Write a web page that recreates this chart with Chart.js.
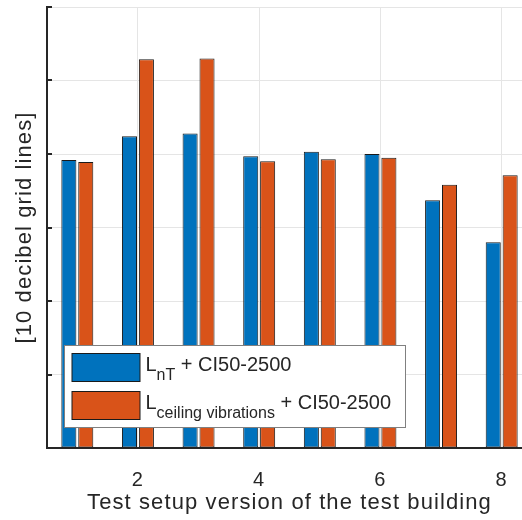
<!DOCTYPE html>
<html>
<head>
<meta charset="utf-8">
<script src="https://cdn.jsdelivr.net/npm/chart.js@4"></script>
<style>
  html, body { margin: 0; padding: 0; background: #fff; overflow: hidden; }
  #wrap { width: 540px; height: 520px; }
</style>
</head>
<body>
<div id="wrap"><canvas id="levelChart"></canvas></div>
<script>
// test setup versions 1..8
const versions = ['1', '2', '3', '4', '5', '6', '7', '8'];
// L_nT + CI50-2500
const lntValues = [39.2, 42.4, 42.8, 39.7, 40.3, 40.0, 33.7, 28.0];
// L_ceiling vibrations + CI50-2500
const ceilingValues = [38.9, 52.9, 53.0, 39.0, 39.3, 39.5, 35.8, 37.1];
// legend text: base, subscript, suffix
const lntName = ['L', 'nT', ' + CI50-2500'];
const ceilingName = ['L', 'ceiling vibrations', ' + CI50-2500'];
// y grid: 10 dB steps, no labels
const yMin = 0;
const yMax = 60;
const yStep = 10;

const blue = '#0072BD';
const orange = '#D95319';
const ink = '#262626';
const family = '"Liberation Sans", Arial, Helvetica, sans-serif';

// wider text spacing for the axis labels
const spacingPlugin = {
    id: 'spacing',
    beforeDraw(chart) {
        chart.ctx.letterSpacing = '1.1px';
    }
};

// short inward ticks on the y axis
const yTickPlugin = {
    id: 'yTicksIn',
    afterDraw(chart) {
        const y = chart.scales.y;
        const ctx = chart.ctx;
        ctx.save();
        ctx.strokeStyle = ink;
        ctx.lineWidth = 2;
        y.ticks.forEach(t => {
            const py = Math.round(y.getPixelForValue(t.value));
            ctx.beginPath();
            ctx.moveTo(y.right - 1, py);
            ctx.lineTo(y.right + 5, py);
            ctx.stroke();
        });
        ctx.restore();
    }
};

// boxed legend with subscripts
const legendPlugin = {
    id: 'subLegend',
    afterDatasetsDraw(chart) {
        const ctx = chart.ctx;
        const area = chart.chartArea;
        const bx = area.left + 17.5;
        const by = area.bottom - 102.5;
        const bw = 341;
        const bh = 82;
        ctx.save();
        ctx.letterSpacing = '0px';
        ctx.fillStyle = '#fff';
        ctx.fillRect(bx, by, bw, bh);
        ctx.strokeStyle = '#808080';
        ctx.lineWidth = 1;
        ctx.strokeRect(bx, by, bw, bh);

        const rows = [
            { name: lntName, color: blue },
            { name: ceilingName, color: orange }
        ];
        rows.forEach((r, i) => {
            const sy = by + 8 + i * 38;
            ctx.fillStyle = r.color;
            ctx.fillRect(bx + 7.5, sy, 68, 28);
            ctx.strokeStyle = '#1a1a1a';
            ctx.strokeRect(bx + 7.5, sy, 68, 28);

            let tx = bx + 81;
            const base = sy + 17;
            ctx.fillStyle = ink;
            ctx.textBaseline = 'alphabetic';
            ctx.textAlign = 'left';
            ctx.font = '20px ' + family;
            ctx.fillText(r.name[0], tx, base);
            tx += ctx.measureText(r.name[0]).width;
            ctx.font = '16px ' + family;
            ctx.fillText(r.name[1], tx, base + 9);
            tx += ctx.measureText(r.name[1]).width;
            ctx.font = '20px ' + family;
            ctx.fillText(r.name[2], tx, base);
        });
        ctx.restore();
    }
};

new Chart(document.getElementById('levelChart'), {
    type: 'bar',
    data: {
        labels: versions,
        datasets: [{
            label: lntName.join(''),
            data: lntValues,
            backgroundColor: blue,
            borderColor: '#1a1a1a',
            borderWidth: 1,
            borderSkipped: false,
            categoryPercentage: 0.558,
            barPercentage: 0.89
        }, {
            label: ceilingName.join(''),
            data: ceilingValues,
            backgroundColor: orange,
            borderColor: '#1a1a1a',
            borderWidth: 1,
            borderSkipped: false,
            categoryPercentage: 0.558,
            barPercentage: 0.89
        }]
    },
    options: {
        responsive: true,
        maintainAspectRatio: false,
        animation: false,
        layout: { padding: { top: 7, right: 8, left: 0, bottom: 0 } },
        plugins: {
            legend: { display: false },
            tooltip: { enabled: false }
        },
        scales: {
            x: {
                grid: {
                    offset: false,
                    drawTicks: false,
                    color: c => (c.index % 2 === 1 ? '#e5e5e5' : 'rgba(0,0,0,0)')
                },
                border: { color: ink, width: 2 },
                ticks: {
                    autoSkip: false,
                    maxRotation: 0,
                    padding: 20,
                    color: ink,
                    font: { family: family, size: 20 },
                    callback: (v, i) => (i % 2 === 1 ? versions[i] : '')
                },
                title: {
                    display: true,
                    text: 'Test setup version of the test building',
                    color: ink,
                    font: { family: family, size: 22 },
                    padding: { top: 0, bottom: 4 }
                },
                afterFit: s => { s.height = 72; }
            },
            y: {
                min: yMin,
                max: yMax,
                grid: { color: '#e5e5e5', drawTicks: false },
                border: { color: ink, width: 2 },
                ticks: { stepSize: yStep, display: false },
                title: {
                    display: true,
                    text: '[10 decibel grid lines]',
                    color: ink,
                    font: { family: family, size: 22 },
                    padding: { top: 12, bottom: 0 }
                },
                afterFit: s => { s.width = 47; }
            }
        }
    },
    plugins: [spacingPlugin, yTickPlugin, legendPlugin]
});
</script>
</body>
</html>
